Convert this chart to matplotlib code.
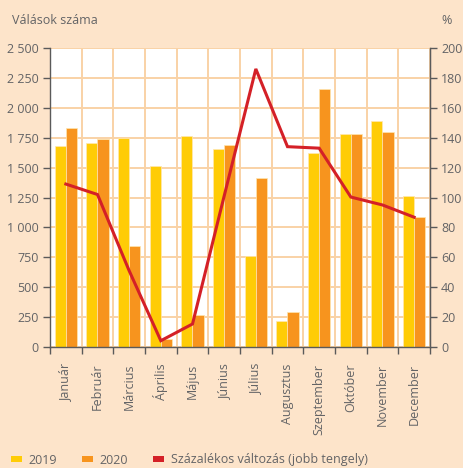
import matplotlib
matplotlib.use("Agg")
import matplotlib.pyplot as plt
import numpy as np
from matplotlib.patches import Patch
from matplotlib import font_manager

months = ["Január", "Február", "Március", "Április", "Május", "Június", "Július",
          "Augusztus", "Szeptember", "Október", "November", "December"]
divorces_2019 = [1680, 1708, 1750, 1516, 1764, 1653, 764, 217, 1622, 1781, 1890, 1260]
divorces_2020 = [1831, 1743, 845, 65, 265, 1692, 1416, 293, 2155, 1781, 1795, 1090]
pct_change = [109, 102, 51, 4.2, 15.4, 101, 186, 134, 133, 100.3, 95, 86.8]
left_ticks = list(range(0, 2501, 250))
left_labels = ["0", "250", "500", "750", "1 000", "1 250", "1 500", "1 750", "2 000", "2 250", "2 500"]
right_ticks = list(range(0, 201, 20))

names = {f.name for f in font_manager.fontManager.ttflist}
fam = "Liberation Sans Narrow" if "Liberation Sans Narrow" in names else "Open Sans"
plt.rcParams['font.family'] = [fam, 'DejaVu Sans']

BG = '#FDE4CA'
GRID = '#F9D2A6'
TXT = '#636466'
AX = '#5A5A5A'
YEL = '#FFCC06'
ORA = '#F7941E'
RED = '#D42027'

fig = plt.figure(figsize=(4.64, 4.68), dpi=100, facecolor=BG)
ax = fig.add_axes([50/464, 1-347/468, 380/464, 299/468])
ax.set_facecolor('white')
x = np.arange(len(months))
w = 0.354
ax.bar(x - w/2, divorces_2019, width=w, color=YEL, edgecolor='#FFE7B0', linewidth=0.5, zorder=2)
ax.bar(x + w/2, divorces_2020, width=w, color=ORA, edgecolor='#FFE7B0', linewidth=0.5, zorder=2)
ax.set_xlim(-0.5, len(months) - 0.5)
ax.set_ylim(0, 2500)
ax.set_yticks(left_ticks)
ax.set_yticklabels(left_labels)
for t in left_ticks:
    ax.axhline(t, color=GRID, lw=1.4, zorder=1)
for b in np.arange(-0.5, len(months), 1.0):
    ax.axvline(b, color=GRID, lw=1.4, zorder=1)
ax.set_xticks(np.arange(-0.5, len(months), 1.0))
ax.set_xticklabels([])
ax.set_xticks(x, minor=True)
ax.set_xticklabels(months, minor=True, rotation=90, fontsize=9, color=TXT)
ax.tick_params(axis='x', which='minor', length=0, pad=12)
ax.tick_params(axis='x', which='major', length=5, width=1, color=AX, direction='out')
ax.tick_params(axis='y', length=5, width=1, color=AX, labelsize=9, labelcolor=TXT, pad=3)
ax.spines['top'].set_visible(False)
for s in ['left', 'bottom', 'right']:
    ax.spines[s].set_color(AX)
    ax.spines[s].set_linewidth(1.0)
    ax.spines[s].set_zorder(5)

ax2 = ax.twinx()
ax2.plot(x, pct_change, color=RED, lw=2.2, zorder=5, solid_joinstyle='miter')
ax2.set_ylim(0, 200)
ax2.set_yticks(right_ticks)
ax2.tick_params(axis='y', length=5, width=1, color=AX, labelsize=9, labelcolor=TXT, pad=3)
for s in ['top', 'left', 'bottom']:
    ax2.spines[s].set_visible(False)
ax2.spines['right'].set_color(AX)

fig.text(12/464, 1-20/468, "Válások száma", fontsize=9, color=TXT, va='center', ha='left')
fig.text(452/464, 1-20/468, "%", fontsize=9, color=TXT, va='center', ha='right')

handles = [Patch(facecolor=YEL, edgecolor='none'), Patch(facecolor=ORA, edgecolor='none'),
           Patch(facecolor=RED, edgecolor='none')]
leg = fig.legend(handles, ["2019", "2020", "Százalékos változás (jobb tengely)"],
                 loc='center left', bbox_to_anchor=(0.008, 1-460/468), ncol=3, frameon=False,
                 fontsize=9, handlelength=0.9, handleheight=0.45, handletextpad=0.5,
                 columnspacing=2.0, labelcolor=TXT, borderaxespad=0.2)

fig.savefig("out.png", dpi=100, facecolor=BG)
